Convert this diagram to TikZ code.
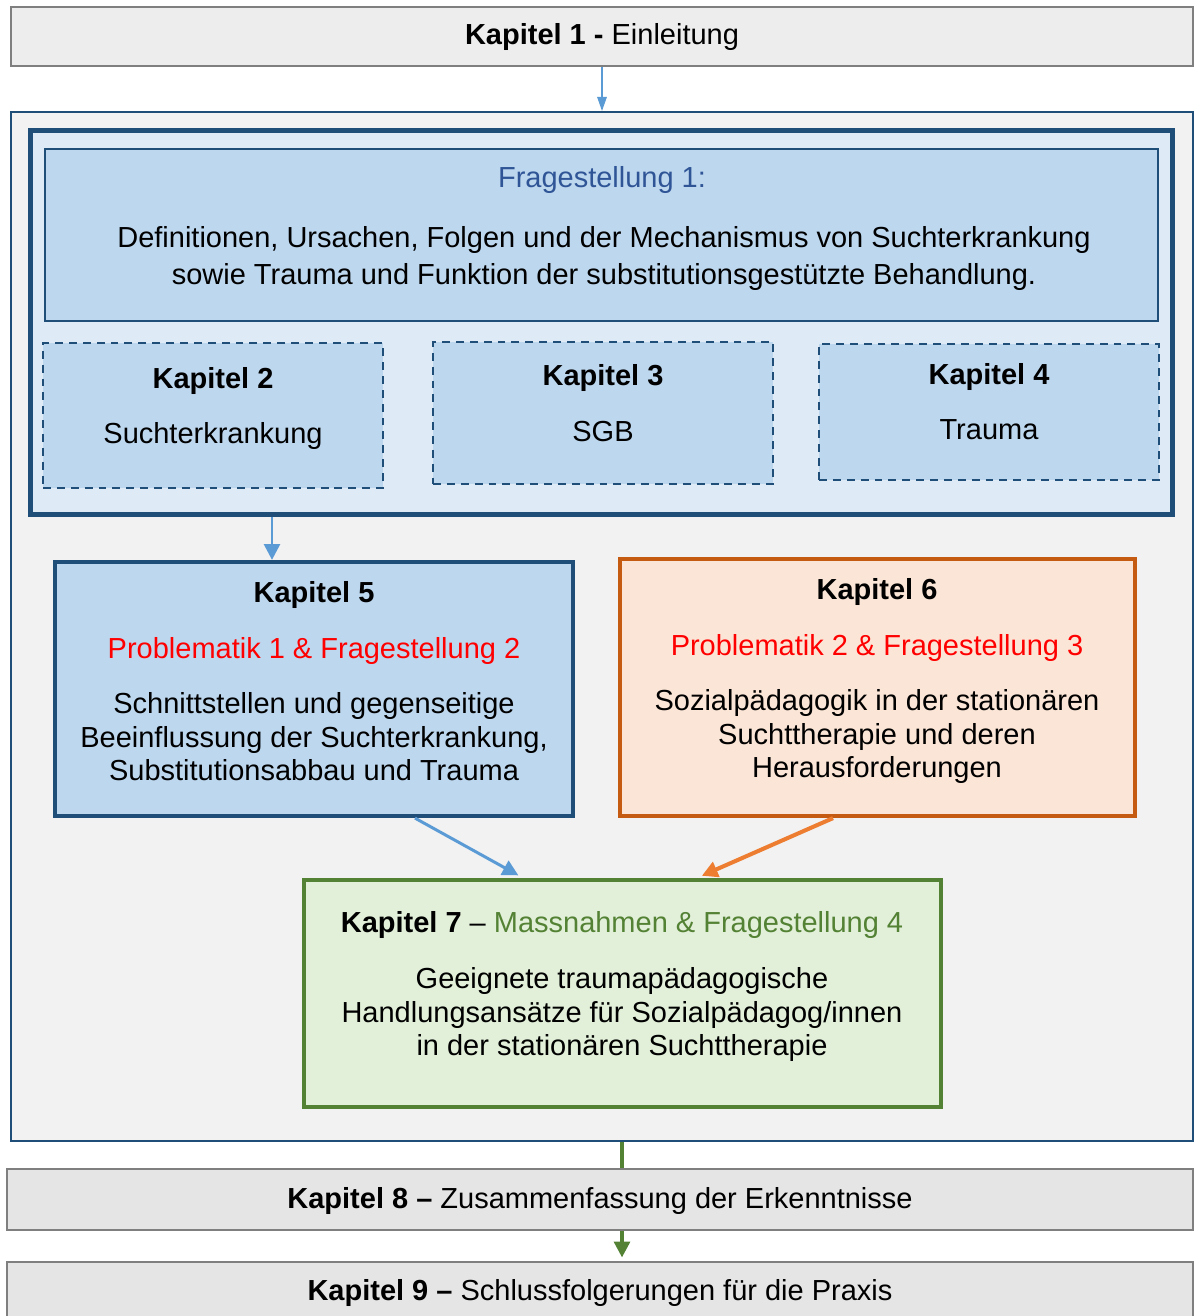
\documentclass[tikz,border=0pt]{standalone}
\usepackage{fontspec}
\setmainfont{Liberation Sans}
\usetikzlibrary{arrows.meta,fit}
\definecolor{navy}{HTML}{1F4E79}
\definecolor{rimgray}{HTML}{7F7F7F}
\definecolor{pale}{HTML}{DEEBF7}
\definecolor{sky}{HTML}{BDD7EE}
\definecolor{qblue}{HTML}{2F5597}
\definecolor{arrblue}{HTML}{5B9BD5}
\definecolor{rust}{HTML}{C55A11}
\definecolor{peach}{HTML}{FBE5D6}
\definecolor{arrorange}{HTML}{ED7D31}
\definecolor{leaf}{HTML}{548235}
\definecolor{mint}{HTML}{E2F0D9}
\tikzset{
  box/.style      = {inner sep=0pt},
  graybox/.style  = {box, draw=rimgray, fill=#1, line width=1.2pt},
  framebox/.style = {box, draw=navy, fill=#1},
  chapbox/.style  = {box, draw=navy, fill=sky, line width=1.2pt,
                     dash pattern=on 4.5pt off 3.4pt},
  txt/.style      = {anchor=base, align=center, inner sep=0pt,
                     font=\fontsize{16.5}{19}\selectfont},
  flow/.style     = {line width=#1, -{Triangle[length=9pt,width=9pt]}},
}
\begin{document}
\begin{tikzpicture}[x=0.02cm,y=-0.02cm]
  \useasboundingbox (0,0) rectangle (1195,1316);
  % frames and boxes
  \node (k1)    [graybox=black!7, fit={(11,7) (1193,66)}] {};
  \node (frame) [framebox=black!5, line width=1.2pt, fit={(11,112) (1193,1141)}] {};
  \node (fs)    [framebox=pale, line width=2.8pt, fit={(30.5,130.5) (1172.5,514.5)}] {};
  \node (q1)    [framebox=sky, line width=1.2pt, fit={(45,149) (1158,321)}] {};
  \node (k2)    [chapbox, fit={(43,343) (383,488)}] {};
  \node (k3)    [chapbox, fit={(433,342) (773,484)}] {};
  \node (k4)    [chapbox, fit={(819,344) (1159,480)}] {};
  \node (k5)    [framebox=sky, line width=2.4pt, fit={(55,562) (573,816)}] {};
  \node (k6)    [box, draw=rust, fill=peach, line width=2.4pt, fit={(620,559) (1135,816)}] {};
  \node (k7)    [box, draw=leaf, fill=mint, line width=2.4pt, fit={(304,880) (941,1107)}] {};
  \node (k8)    [graybox=black!10, fit={(7,1169) (1193,1230)}] {};
  \node (k9)    [graybox=black!10, fit={(7,1262) (1193,1330)}] {};
  % texts (base = baseline of the last line)
  \node (t1)  [txt] at (602,44.5)  {\textbf{Kapitel 1 -} Einleitung};
  \node (tq1) [txt, text=qblue] at (602,187.5) {Fragestellung 1:};
  \node (tq2) [txt, font=\fontsize{16.5}{21}\selectfont] at (604,284.5)
    {Definitionen, Ursachen, Folgen und der Mechanismus von Suchterkrankung\\
     sowie Trauma und Funktion der substitutionsgestützte Behandlung.};
  \node (t2a) [txt] at (213,388.5) {\textbf{Kapitel 2}};
  \node (t2b) [txt] at (213,443.5) {Suchterkrankung};
  \node (t3a) [txt] at (603,385.5) {\textbf{Kapitel 3}};
  \node (t3b) [txt] at (603,441.5) {SGB};
  \node (t4a) [txt] at (989,384.5) {\textbf{Kapitel 4}};
  \node (t4b) [txt] at (989,439.5) {Trauma};
  \node (t5a) [txt] at (314,602.5) {\textbf{Kapitel 5}};
  \node (t5b) [txt, text=red] at (314,658.5) {Problematik 1 \& Fragestellung 2};
  \node (t5c) [txt] at (314,780.5)
    {Schnittstellen und gegenseitige\\Beeinflussung der Suchterkrankung,\\Substitutionsabbau und Trauma};
  \node (t6a) [txt] at (877,599.5) {\textbf{Kapitel 6}};
  \node (t6b) [txt, text=red] at (877,655.5) {Problematik 2 \& Fragestellung 3};
  \node (t6c) [txt] at (877,777.5)
    {Sozialpädagogik in der stationären\\Suchttherapie und deren\\Herausforderungen};
  \node (t7a) [txt] at (622,932.5)
    {\textbf{Kapitel 7} – \textcolor{leaf}{Massnahmen \& Fragestellung 4}};
  \node (t7b) [txt] at (622,1055.5)
    {Geeignete traumapädagogische\\Handlungsansätze für Sozialpädagog/innen\\in der stationären Suchttherapie};
  \node (t8)  [txt] at (600,1208.5) {\textbf{Kapitel 8 –} Zusammenfassung der Erkenntnisse};
  \node (t9)  [txt] at (600,1300.5) {\textbf{Kapitel 9 –} Schlussfolgerungen für die Praxis};
  % connectors
  \draw[arrblue, line width=0.6pt, -{Triangle[length=8pt,width=5.5pt]}]
    (k1.south) -- (frame.north);
  \draw[arrblue, flow=1.7pt] (fs.south -| 272,0) -- (k5.north -| 272,0);
  \draw[arrblue, flow=1.7pt, shorten >=3pt] (k5.south -| 415,0) -- (k7.north -| 523,0);
  \draw[arrorange, flow=2.3pt, shorten >=3pt] (k6.south -| 833,0) -- (k7.north -| 697,0);
  \draw[leaf, line width=2pt] (frame.south -| 622,0) -- (k8.north -| 622,0);
  \draw[leaf, flow=2pt, shorten >=2pt] (k8.south -| 622,0) -- (k9.north -| 622,0);
\end{tikzpicture}
\end{document}
